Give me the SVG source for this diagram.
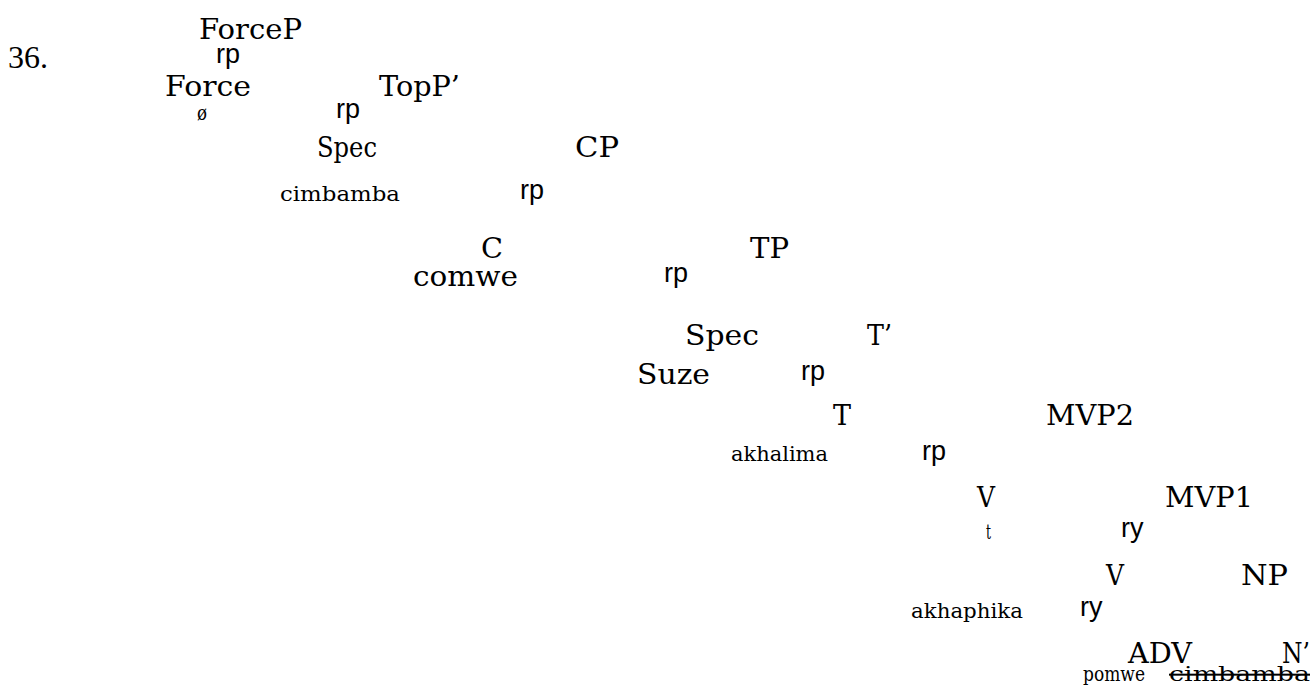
<svg xmlns="http://www.w3.org/2000/svg" width="1316" height="687" viewBox="0 0 1316 687">
<style>
.L{font-family:"DejaVu Serif","Liberation Serif",serif;font-size:28px;fill:#000}
.S{font-family:"DejaVu Serif","Liberation Serif",serif;font-size:20px;fill:#000}
.B{font-family:"Liberation Sans",Arial,sans-serif;font-size:27px;fill:#000}
.N{font-family:"Liberation Serif","Times New Roman",serif;font-size:31px;fill:#000}
</style>
<rect width="1316" height="687" fill="#fff"/>
<text class="N" x="8" y="68" textLength="40" lengthAdjust="spacingAndGlyphs">36.</text>
<g id="forcep"><text class="L" x="199" y="39" textLength="103" lengthAdjust="spacingAndGlyphs">ForceP</text></g>
<g id="force"><text class="L" x="165" y="96" textLength="86" lengthAdjust="spacingAndGlyphs">Force</text><text class="S" x="197" y="120" textLength="10" lengthAdjust="spacingAndGlyphs">ø</text></g>
<g id="topp"><text class="L" x="379" y="96" textLength="81" lengthAdjust="spacingAndGlyphs">TopP’</text></g>
<g id="spec1"><text class="L" x="317" y="157" textLength="60" lengthAdjust="spacingAndGlyphs">Spec</text><text class="S" x="280" y="201" textLength="120" lengthAdjust="spacingAndGlyphs">cimbamba</text></g>
<g id="cp"><text class="L" x="575" y="157" textLength="44" lengthAdjust="spacingAndGlyphs">CP</text></g>
<g id="c"><text class="L" x="481" y="258" textLength="22" lengthAdjust="spacingAndGlyphs">C</text><text class="L" x="413" y="286" textLength="105" lengthAdjust="spacingAndGlyphs">comwe</text></g>
<g id="tp"><text class="L" x="750" y="258" textLength="39" lengthAdjust="spacingAndGlyphs">TP</text></g>
<g id="spec2"><text class="L" x="685" y="345" textLength="74" lengthAdjust="spacingAndGlyphs">Spec</text><text class="L" x="637" y="384" textLength="73" lengthAdjust="spacingAndGlyphs">Suze</text></g>
<g id="tbar"><text class="L" x="867" y="345" textLength="25" lengthAdjust="spacingAndGlyphs">T’</text></g>
<g id="t"><text class="L" x="833" y="425" textLength="18" lengthAdjust="spacingAndGlyphs">T</text><text class="S" x="731" y="461" textLength="97" lengthAdjust="spacingAndGlyphs">akhalima</text></g>
<g id="mvp2"><text class="L" x="1046" y="425" textLength="88" lengthAdjust="spacingAndGlyphs">MVP2</text></g>
<g id="v1"><text class="L" x="977" y="507" textLength="18" lengthAdjust="spacingAndGlyphs">V</text><text class="S" x="986" y="539" textLength="5" lengthAdjust="spacingAndGlyphs">t</text></g>
<g id="mvp1"><text class="L" x="1165" y="507" textLength="88" lengthAdjust="spacingAndGlyphs">MVP1</text></g>
<g id="v2"><text class="L" x="1106" y="585" textLength="18" lengthAdjust="spacingAndGlyphs">V</text><text class="S" x="911" y="618" textLength="112" lengthAdjust="spacingAndGlyphs">akhaphika</text></g>
<g id="np"><text class="L" x="1241" y="585" textLength="47" lengthAdjust="spacingAndGlyphs">NP</text></g>
<g id="adv"><text class="L" x="1128" y="663" textLength="64" lengthAdjust="spacingAndGlyphs">ADV</text><text class="S" x="1083" y="681" textLength="62" lengthAdjust="spacingAndGlyphs">pomwe</text></g>
<g id="nbar"><text class="L" x="1282" y="663" textLength="28" lengthAdjust="spacingAndGlyphs">N’</text><text class="S" x="1169" y="681" textLength="141" lengthAdjust="spacingAndGlyphs" text-decoration="line-through">cimbamba</text></g>
<g id="connectors">
<text class="B" x="216" y="63">rp</text>
<text class="B" x="336" y="118">rp</text>
<text class="B" x="520" y="199">rp</text>
<text class="B" x="664" y="282">rp</text>
<text class="B" x="801" y="380">rp</text>
<text class="B" x="922" y="460">rp</text>
<text class="B" x="1121" y="537">ry</text>
<text class="B" x="1080" y="616">ry</text>
</g>
</svg>
